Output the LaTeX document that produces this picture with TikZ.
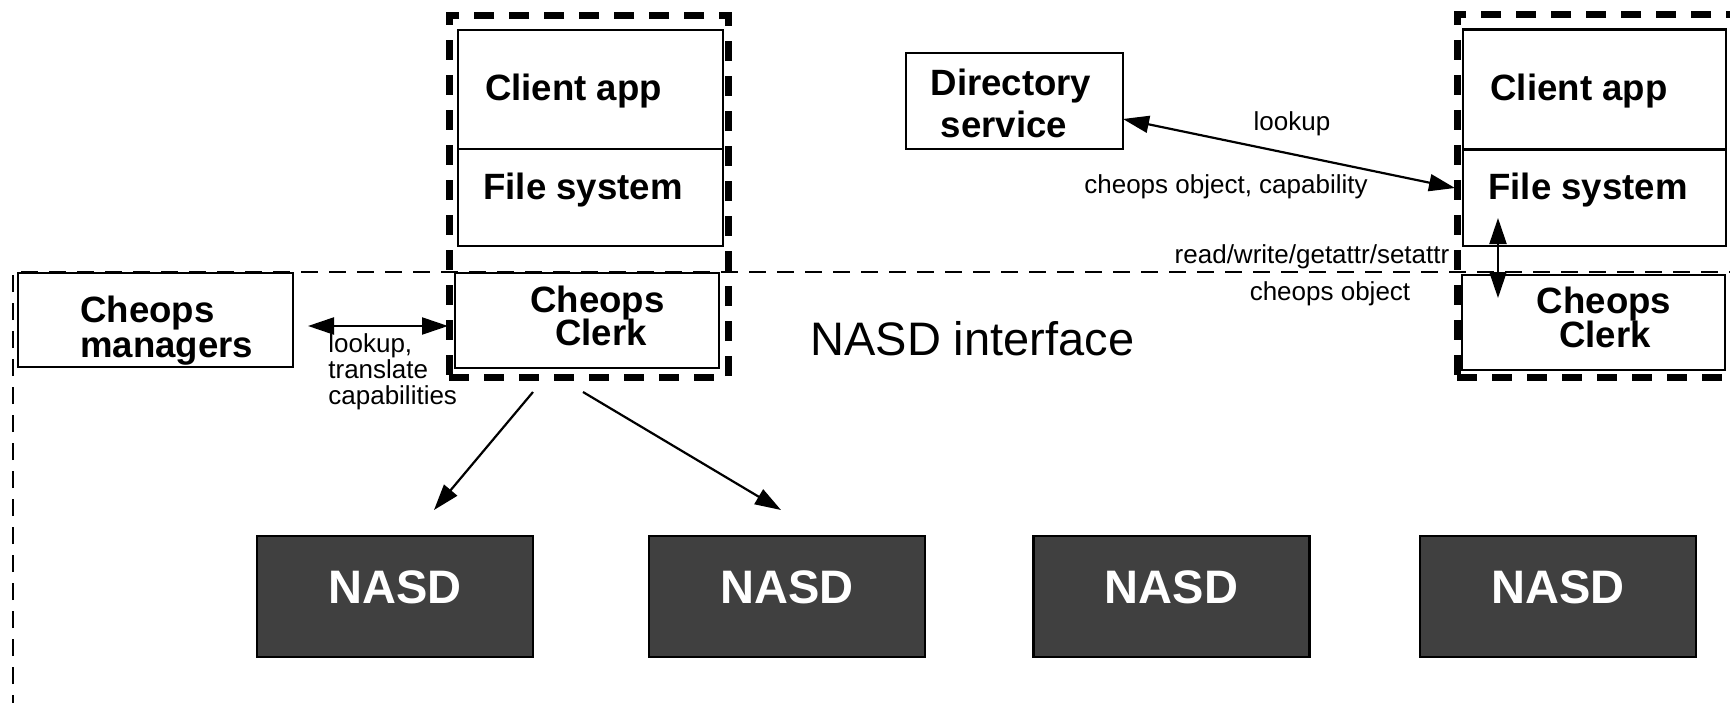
\documentclass[tikz,border=0pt]{standalone}
\usepackage{fontspec}
\setmainfont{Liberation Sans}
\usetikzlibrary{arrows.meta}
\definecolor{nasdgray}{HTML}{404040}

\begin{document}
\begin{tikzpicture}[x=0.5pt,y=-0.5pt,
  box/.style={draw=black, line width=1.3pt, fill=white, rectangle, inner sep=0pt, outer sep=0pt},
  group/.style={draw=black, line width=3.5pt, dash pattern=on 10pt off 7.5pt, rectangle, inner sep=0pt, outer sep=0pt},
  frame/.style={draw=black, line width=1pt, dash pattern=on 8.5pt off 5.5pt},
  nasd/.style={draw=black, line width=1.4pt, fill=nasdgray, rectangle, minimum width=138pt, minimum height=60.5pt,
    text=white, font=\fontsize{23.5pt}{28pt}\selectfont\bfseries, text depth=9.5pt, inner sep=0pt, outer sep=0pt},
  title/.style={font=\fontsize{18.3pt}{22pt}\selectfont\bfseries, anchor=base, inner sep=0pt},
  note/.style={font=\fontsize{13pt}{15pt}\selectfont, anchor=base, inner sep=0pt},
  oneway/.style={-{Triangle[length=13pt,width=8.5pt]}, line width=1.1pt},
  twoway/.style={{Triangle[length=13pt,width=8.5pt]}-{Triangle[length=13pt,width=8.5pt]}, line width=1.1pt},
]
\useasboundingbox (0,0) rectangle (1730,702);
\clip (0,0) rectangle (1730,702);

% NASD interface boundary
\draw[frame] (13,712) -- (13,272) -- (1740,272);

% left client host
\node[box, minimum width=132.5pt, minimum height=59.5pt] (caL) at (590.5,89.5) {};
\node[box, minimum width=132.5pt, minimum height=48.5pt] (fsL) at (590.5,197.5) {};
\node[box, minimum width=132pt, minimum height=47.5pt] (ckL) at (587,320.5) {};
\node[group, minimum width=139.5pt, minimum height=181pt] (grpL) at (588.5,196) {};

% right client host
\node[box, minimum width=131.5pt, minimum height=60pt] (caR) at (1594.5,89.5) {};
\node[box, minimum width=131.5pt, minimum height=48pt] (fsR) at (1594.5,198) {};
\node[box, minimum width=131.5pt, minimum height=47.5pt] (ckR) at (1593.5,322.5) {};
\node[group, minimum width=156.5pt, minimum height=181.5pt] (grpR) at (1613.5,195.5) {};

% services
\node[box, minimum width=108.5pt, minimum height=48pt] (dir) at (1014.5,101) {};
\node[box, minimum width=137.5pt, minimum height=47pt] (mgr) at (155.5,320) {};

% box labels
\node[title] (caLt) at (573.5,100) {Client app};
\node[title] (fsLt) at (583,199) {File system};
\node[title] (ckLa) at (597.5,312) {Cheops};
\node[title] (ckLb) at (601,345) {Clerk};
\node[title] (caRt) at (1579,100) {Client app};
\node[title] (fsRt) at (1588,199) {File system};
\node[title] (ckRa) at (1604,313) {Cheops};
\node[title] (ckRb) at (1605,347) {Clerk};
\node[title] (dira) at (1011,95) {Directory};
\node[title] (dirb) at (1004,137) {service};
\node[title, anchor=base west] (mgra) at (80,322) {Cheops};
\node[title, anchor=base west] (mgrb) at (80,357) {managers};

% storage devices
\node[nasd] (n1) at (395,596.5) {NASD};
\node[nasd] (n2) at (787,596.5) {NASD};
\node[nasd] (n3) at (1171.5,596.5) {NASD};
\node[nasd] (n4) at (1558,596.5) {NASD};

% interface caption
\node[anchor=base west, inner sep=0pt, font=\fontsize{23.5pt}{28pt}\selectfont] (nif) at (810,355) {NASD interface};

% connector labels
\node[note] (lk) at (1292,130) {lookup};
\node[note] (coc) at (1226,193) {cheops object, capability};
\node[note] (rw) at (1312,263) {read/write/getattr/setattr};
\node[note] (co) at (1330,300) {cheops object};
\node[note, anchor=base west] (lta) at (328,352) {lookup,};
\node[note, anchor=base west] (ltb) at (328,378) {translate};
\node[note, anchor=base west] (ltc) at (328,404) {capabilities};

% connector ends
\coordinate (mgrEnd) at (308,326);
\coordinate (ckLEnd) at (448,326);
\coordinate (dirEnd) at (1123,119);
\coordinate (fsREnd) at (1455,188);
\coordinate (fsRLow) at (1498,218);
\coordinate (ckRTop) at (1498,298);
\coordinate (ckLa1) at (533,392);
\coordinate (ckLa2) at (583,392);
\coordinate (n1Top) at (434,510);
\coordinate (n2Top) at (781,510);

% connectors
\draw[twoway] (mgrEnd) -- (ckLEnd);
\draw[twoway] (dirEnd) -- (fsREnd);
\draw[twoway] (fsRLow) -- (ckRTop);
\draw[oneway] (ckLa1) -- (n1Top);
\draw[oneway] (ckLa2) -- (n2Top);
\end{tikzpicture}
\end{document}
